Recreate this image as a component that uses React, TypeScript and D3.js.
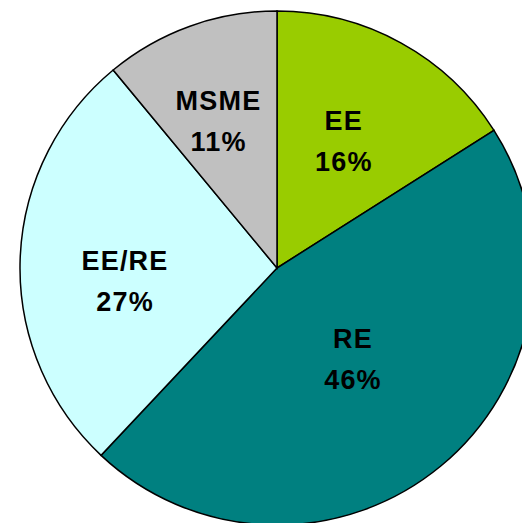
import React from "react";
import * as d3 from "d3";

const categories = ["EE", "RE", "EE/RE", "MSME"];
const shares = [16, 46, 27, 11];
const colors = ["#99cc00", "#008080", "#ccffff", "#c0c0c0"];
// label nudge from the arc centroid, per slice (layout only)
const labelNudge: [number, number][] = [[-6, 4], [-20, -24], [-4, 18], [-9, -7]];

const W = 522;
const H = 523;
const cx = 277;
const cy = 268;
const R = 257;

export default function App() {
  const pie = d3.pie<number>().sort(null).value(d => d);
  const arcs = pie(shares);
  const arc = d3.arc<d3.PieArcDatum<number>>().innerRadius(0).outerRadius(R);
  const labelArc = d3.arc<d3.PieArcDatum<number>>().innerRadius(R * 0.58).outerRadius(R * 0.58);

  return (
    <svg
      width={W}
      height={H}
      style={{ position: "absolute", left: 0, top: 0, display: "block" }}
    >
      <g transform={`translate(${cx},${cy})`}>
        {arcs.map((a, i) => (
          <path key={i} d={arc(a) || ""} fill={colors[i]} stroke="#000" strokeWidth={1.5} />
        ))}
        {arcs.map((a, i) => {
          const [mx, my] = labelArc.centroid(a);
          const x = mx + labelNudge[i][0];
          const y = my + labelNudge[i][1];
          return (
            <text
              key={"t" + i}
              textAnchor="middle"
              fontFamily="'Liberation Sans', Arial, sans-serif"
              fontWeight="bold"
              fontSize={27}
              letterSpacing={1.2}
              fill="#000"
            >
              <tspan x={x + 1} y={y - 11}>{categories[i]}</tspan>
              <tspan x={x + 1} y={y + 30}>{shares[i]}%</tspan>
            </text>
          );
        })}
      </g>
    </svg>
  );
}
